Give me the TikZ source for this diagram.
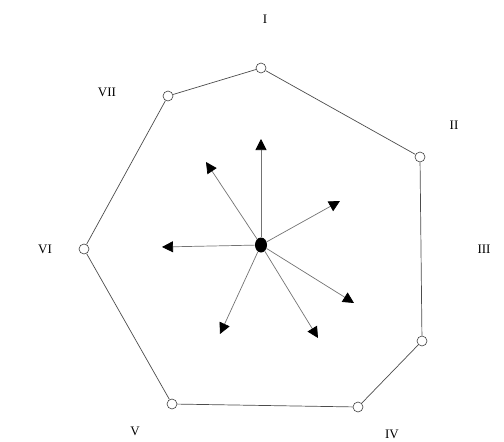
\documentclass[tikz,border=0pt]{standalone}
\usepackage{fontspec}
\setmainfont{Liberation Serif}
\usetikzlibrary{arrows.meta, shapes.geometric}

\begin{document}
\begin{tikzpicture}[x=1pt, y=-1pt, font=\fontsize{13}{15}\selectfont,
  vtx/.style={draw=black!75, fill=white, circle, minimum size=10pt, inner sep=0pt, line width=0.6pt},
  edge/.style={draw=black!70, line width=0.7pt},
  hub/.style={fill=black, ellipse, minimum width=12pt, minimum height=15pt, inner sep=0pt},
  arr/.style={-{Triangle[length=11pt, width=11pt, black]}, black!55, line width=0.7pt}
]
\useasboundingbox (0,0) rectangle (504,442);

% corners of the heptagon
\node[vtx] (v1) at (261,68)  {};
\node[vtx] (v2) at (420,157) {};
\node[vtx] (v3) at (422,341) {};
\node[vtx] (v4) at (358,407) {};
\node[vtx] (v5) at (172,404) {};
\node[vtx] (v6) at (84,249)  {};
\node[vtx] (v7) at (168,96)  {};
\foreach \a/\b in {v1/v2, v2/v3, v3/v4, v4/v5, v5/v6, v6/v7, v7/v1} \draw[edge] (\a) -- (\b);

% labels
\node (l1) at (265,19)  {I};
\node (l2) at (454,125) {II};
\node (l3) at (484,249) {III};
\node (l4) at (392,434) {IV};
\node (l5) at (135,431) {V};
\node (l6) at (45,249)  {VI};
\node (l7) at (107,92)  {VII};

% centre and arrows
\node[hub] (c) at (261,245) {};
\coordinate (a1) at (261,139);
\coordinate (a2) at (340,201);
\coordinate (a3) at (354,303);
\coordinate (a4) at (318,338);
\coordinate (a5) at (220,334);
\coordinate (a6) at (162,247);
\coordinate (a7) at (206,162);
\foreach \t in {a1,a2,a3,a4,a5,a6,a7} \draw[arr] (c) -- (\t);
\end{tikzpicture}
\end{document}
